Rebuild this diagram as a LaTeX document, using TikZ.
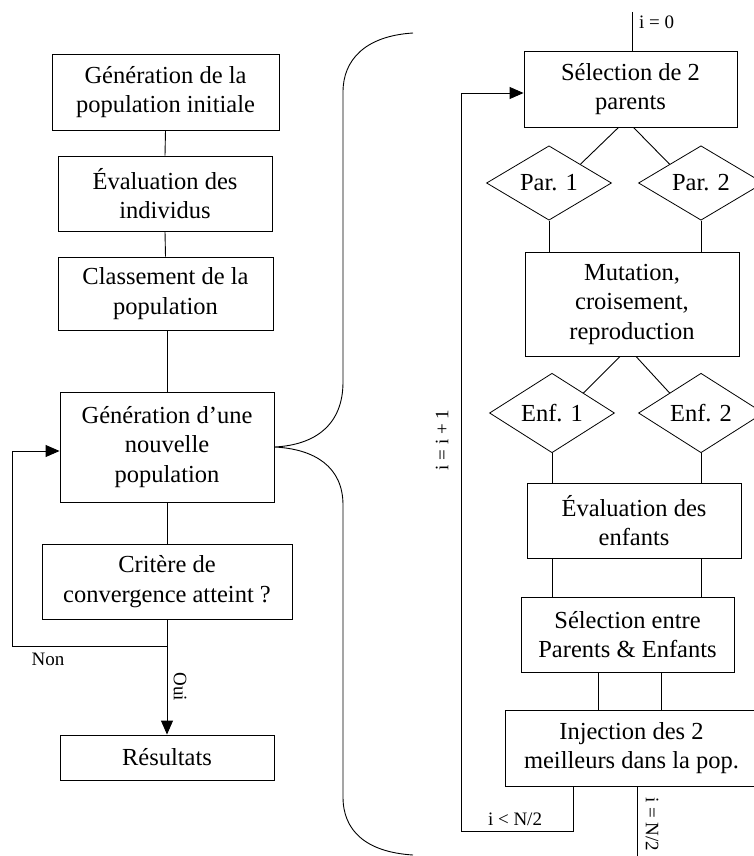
\documentclass[tikz,border=0pt]{standalone}
\usepackage{fontspec}
\setmainfont{Liberation Serif}
\usetikzlibrary{shapes.geometric,arrows.meta,calc}
\begin{document}
\begin{tikzpicture}[x=1pt,y=-1pt,
  box/.style={draw, line width=0.9pt, align=center, inner sep=0pt, font=\fontsize{24.5}{29.5}\selectfont},
  dia/.style={draw, diamond, line width=0.8pt, inner sep=0pt, minimum width=125pt, minimum height=62pt, font=\fontsize{24.5}{29}\selectfont},
  lbl/.style={font=\fontsize{19}{22}\selectfont, inner sep=0pt},
  conn/.style={line width=0.9pt},
  arr/.style={line width=0.9pt, -{Triangle[length=14pt,width=12pt]}},
]
\clip (0,0) rectangle (754,856);
% left column
\node[box, minimum width=227pt, minimum height=76pt] (b1) at (165.5,92) {Génération de la\\population initiale};
\node[box, minimum width=214pt, minimum height=75pt] (b2) at (165,193.5) {Évaluation des\\individus};
\node[box, minimum width=215pt, minimum height=73pt] (b3) at (165.5,293.5) {Classement de la\\population};
\node[box, minimum width=214pt, minimum height=110pt] (b4) at (167,447) {Génération d’une\\nouvelle\\population};
\node[box, minimum width=250pt, minimum height=75pt] (b5) at (167,581.5) {Critère de\\convergence atteint ?};
\node[box, minimum width=214pt, minimum height=45pt] (b6) at (167,757.5) {Résultats};
\draw[conn] (b1.south) -- (b2.north);
\draw[conn] (b2.south) -- (b3.north);
\draw[conn] (b3.south -| b4.north) -- (b4.north);
\draw[conn] (b4.south) -- (b5.north);
\draw[arr] (b5.south) -- (b6.north);
\coordinate (jn) at (167,646);
\coordinate (nl) at (12,646);
\coordinate (nu) at (12,451);
\draw[arr] (jn) -- (nl) -- (nu) -- (nu -| b4.west);
\node[lbl] (non) at (48,659) {Non};
\node[lbl, rotate=-90] (oui) at (180,687) {Oui};
% brace
\coordinate (bt) at (413,33);
\coordinate (bb) at (413,855);
\draw[conn] (bt) .. controls (365,36) and (343,60) .. (343,92) -- (343,382)
  .. controls (343,425) and (315,445) .. (b4.east)
  .. controls (315,449) and (343,467) .. (343,505) -- (343,797)
  .. controls (343,830) and (365,852) .. (bb);
% right column
\node[box, minimum width=213pt, minimum height=76pt] (sel) at (630.5,89) {Sélection de 2\\parents};
\node[dia] (p1) at (549,183) {Par. 1};
\node[dia] (p2) at (701,183) {Par. 2};
\node[box, minimum width=214pt, minimum height=104pt] (mut) at (632,304) {Mutation,\\croisement,\\reproduction};
\node[dia] (e1) at (552,413) {Enf. 1};
\node[dia] (e2) at (701,413) {Enf. 2};
\node[box, minimum width=214pt, minimum height=75pt] (eva) at (634,520.5) {Évaluation des\\enfants};
\node[box, minimum width=213pt, minimum height=75pt] (sele) at (627.5,634.5) {Sélection entre\\Parents \& Enfants};
\node[box, minimum width=253pt, minimum height=76pt] (inj) at (631.5,748) {Injection des 2\\meilleurs dans la pop.};
\coordinate (t0) at (632,12);
\draw[conn] (t0) -- (t0 |- sel.north);
\node[lbl, anchor=west] (i0) at (639,22) {i = 0};
\draw[conn] ($(sel.south)+(-12,0)$) -- (p1.north east);
\draw[conn] ($(sel.south)+(3,0)$) -- (p2.north west);
\draw[conn] (p1.south) -- (p1.south |- mut.north);
\draw[conn] (p2.south) -- (p2.south |- mut.north);
\draw[conn] ($(mut.south)+(-12,0)$) -- (e1.north east);
\draw[conn] ($(mut.south)+(4,0)$) -- (e2.north west);
\draw[conn] (e1.south) -- (e1.south |- eva.north);
\draw[conn] (e2.south) -- (e2.south |- eva.north);
\draw[conn] (eva.south -| e1.south) -- (sele.north -| e1.south);
\draw[conn] (eva.south -| e2.south) -- (sele.north -| e2.south);
\draw[conn] (sele.south -| 598,0) -- (inj.north -| 598,0);
\draw[conn] (sele.south -| 661,0) -- (inj.north -| 661,0);
\coordinate (l1) at (573,831);
\coordinate (l2) at (461,831);
\coordinate (l3) at (461,93);
\draw[arr] (inj.south -| l1) -- (l1) -- (l2) -- (l3) -- (l3 -| sel.west);
\node[lbl] (ilt) at (515,819) {i < N/2};
\node[lbl, rotate=90] (ii) at (442,440) {i = i + 1};
\coordinate (ex) at (637,860);
\draw[conn] (inj.south -| ex) -- (ex);
\node[lbl, anchor=west, rotate=-90] (ieq) at (652,797) {i = N/2};
\end{tikzpicture}
\end{document}
